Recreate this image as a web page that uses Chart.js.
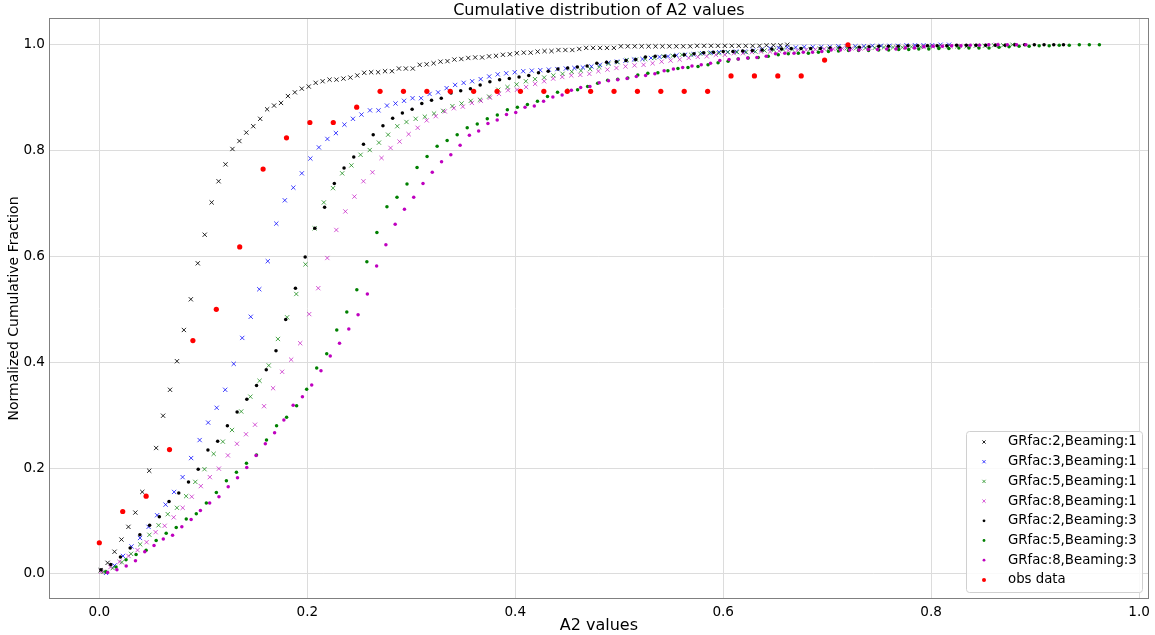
<!DOCTYPE html>
<html><head><meta charset="utf-8">
<script src="https://cdn.jsdelivr.net/npm/chart.js@4.4.0/dist/chart.umd.min.js"></script>
<style>html,body{margin:0;padding:0;background:#fff;}canvas{display:block;}</style>
</head><body>
<canvas id="c" width="1155" height="635"></canvas>
<script>
// ---- Data ----
const chartTitle = 'Cumulative distribution of A2 values';
const seriesNames = ['GRfac:2,Beaming:1','GRfac:3,Beaming:1','GRfac:5,Beaming:1','GRfac:8,Beaming:1',
                     'GRfac:2,Beaming:3','GRfac:5,Beaming:3','GRfac:8,Beaming:3'];
// histogram bin grid of each simulated series (first bin position, bin width)
const binStart = [0.0013, 0.0064, 0.0040, 0.0020, 0.0016, 0.0064, 0.0080];
const binStep  = [0.00667, 0.00819, 0.00883, 0.00869, 0.00935, 0.00965, 0.00892];

const cumGR2B1 = [0.007,0.021,0.042,0.065,0.089,0.116,0.155,0.195,0.238,0.299,
 0.348,0.402,0.461,0.519,0.587,0.641,0.702,0.742,0.774,0.803,
 0.818,0.834,0.846,0.860,0.878,0.885,0.890,0.903,0.910,0.917,
 0.921,0.928,0.931,0.934,0.934,0.936,0.938,0.942,0.947,0.948,
 0.948,0.950,0.950,0.955,0.955,0.955,0.962,0.963,0.965,0.968,
 0.969,0.972,0.973,0.975,0.976,0.976,0.978,0.979,0.981,0.982,
 0.984,0.985,0.985,0.987,0.988,0.988,0.990,0.990,0.990,0.992,
 0.994,0.994,0.994,0.994,0.994,0.997,0.997,0.997,0.997,0.997,
 0.997,0.997,0.997,0.997,0.997,0.997,0.998,0.998,0.998,0.998,
 0.998,0.998,0.998,0.998,0.998,0.998,0.999,0.999,0.999,1.000];
const cumGR3B1 = [0.002,0.016,0.034,0.052,0.068,0.089,0.111,0.131,0.155,0.183,
 0.219,0.253,0.286,0.314,0.348,0.397,0.446,0.486,0.538,0.591,
 0.662,0.706,0.730,0.757,0.785,0.806,0.822,0.833,0.849,0.860,
 0.868,0.876,0.876,0.885,0.889,0.894,0.899,0.899,0.907,0.910,
 0.918,0.924,0.928,0.931,0.935,0.940,0.944,0.946,0.948,0.950,
 0.951,0.952,0.953,0.954,0.955,0.956,0.957,0.959,0.962,0.966,
 0.968,0.970,0.972,0.973,0.975,0.977,0.978,0.980,0.981,0.982,
 0.984,0.985,0.986,0.986,0.987,0.987,0.989,0.991,0.993,0.994,
 0.995,0.995,0.996,0.996,0.996,0.996,0.997,0.997,0.997,0.997,
 0.998,0.998,0.998,0.998,0.999,0.999,0.999,0.999,1.000,1.000];
const cumGR5B1 = [0.004,0.011,0.022,0.038,0.056,0.074,0.092,0.113,0.125,0.147,
 0.174,0.198,0.227,0.250,0.272,0.307,0.335,0.365,0.394,0.444,
 0.485,0.529,0.585,0.653,0.702,0.729,0.757,0.772,0.792,0.801,
 0.815,0.830,0.846,0.854,0.860,0.864,0.870,0.875,0.884,0.889,
 0.894,0.896,0.902,0.915,0.920,0.925,0.931,0.935,0.938,0.942,
 0.945,0.949,0.951,0.954,0.958,0.964,0.967,0.971,0.972,0.973,
 0.975,0.978,0.979,0.981,0.981,0.983,0.984,0.984,0.986,0.986,
 0.986,0.987,0.989,0.990,0.991,0.991,0.992,0.992,0.993,0.993,
 0.994,0.994,0.994,0.994,0.994,0.995,0.995,0.995,0.996,0.996,
 0.997,0.997,0.997,0.997,0.997,0.998,0.998,0.999,0.999,1.000];
const cumGR8B1 = [0.004,0.013,0.023,0.034,0.045,0.060,0.079,0.091,0.107,0.125,
 0.146,0.166,0.183,0.199,0.224,0.246,0.264,0.282,0.317,0.351,
 0.382,0.405,0.436,0.491,0.540,0.597,0.650,0.685,0.713,0.742,
 0.759,0.786,0.805,0.817,0.831,0.843,0.857,0.865,0.874,0.880,
 0.883,0.890,0.894,0.900,0.907,0.914,0.915,0.920,0.926,0.931,
 0.936,0.939,0.942,0.943,0.945,0.950,0.953,0.956,0.959,0.961,
 0.962,0.965,0.968,0.970,0.972,0.975,0.977,0.978,0.981,0.981,
 0.984,0.984,0.986,0.987,0.987,0.988,0.989,0.989,0.990,0.991,
 0.992,0.992,0.993,0.993,0.993,0.994,0.994,0.995,0.995,0.995,
 0.996,0.996,0.997,0.997,0.997,0.998,0.998,0.999,0.999,1.000];
const cumGR2B3 = [0.008,0.018,0.032,0.049,0.074,0.092,0.108,0.137,0.153,0.174,
 0.198,0.234,0.251,0.280,0.306,0.330,0.356,0.386,0.422,0.481,
 0.540,0.599,0.653,0.693,0.738,0.767,0.788,0.812,0.830,0.847,
 0.861,0.871,0.878,0.889,0.895,0.899,0.909,0.913,0.917,0.924,
 0.930,0.934,0.936,0.939,0.942,0.947,0.950,0.954,0.956,0.958,
 0.960,0.965,0.967,0.968,0.970,0.972,0.977,0.978,0.978,0.979,
 0.981,0.983,0.985,0.986,0.987,0.987,0.988,0.989,0.990,0.992,
 0.992,0.993,0.993,0.993,0.993,0.994,0.994,0.994,0.995,0.996,
 0.997,0.997,0.997,0.998,0.998,0.998,0.998,0.998,0.999,0.999,
 0.999,0.999,0.999,0.999,1.000,1.000,1.000,1.000,1.000,1.000];
const cumGR5B3 = [0.004,0.013,0.027,0.037,0.045,0.063,0.077,0.088,0.104,0.114,
 0.134,0.154,0.176,0.192,0.209,0.225,0.253,0.280,0.296,0.318,
 0.349,0.389,0.416,0.461,0.495,0.537,0.590,0.645,0.694,0.712,
 0.737,0.768,0.789,0.808,0.819,0.830,0.843,0.850,0.860,0.867,
 0.877,0.882,0.887,0.893,0.902,0.910,0.914,0.915,0.921,0.927,
 0.933,0.935,0.937,0.943,0.946,0.947,0.951,0.955,0.957,0.959,
 0.962,0.966,0.969,0.973,0.975,0.976,0.978,0.981,0.983,0.984,
 0.984,0.986,0.987,0.988,0.989,0.989,0.989,0.990,0.990,0.991,
 0.991,0.992,0.992,0.993,0.993,0.994,0.994,0.994,0.994,0.995,
 0.996,0.997,0.997,0.998,0.998,0.999,0.999,1.000,1.000,1.000];
const cumGR8B3 = [0.003,0.008,0.015,0.025,0.042,0.054,0.066,0.073,0.089,0.103,
 0.120,0.134,0.146,0.165,0.182,0.201,0.224,0.246,0.267,0.291,
 0.319,0.335,0.357,0.384,0.412,0.436,0.463,0.490,0.529,0.582,
 0.622,0.661,0.689,0.712,0.738,0.759,0.779,0.792,0.810,0.829,
 0.837,0.851,0.858,0.868,0.872,0.882,0.884,0.893,0.901,0.905,
 0.914,0.919,0.921,0.928,0.932,0.934,0.936,0.940,0.942,0.945,
 0.951,0.954,0.957,0.960,0.962,0.965,0.970,0.972,0.973,0.975,
 0.976,0.978,0.983,0.984,0.984,0.986,0.986,0.987,0.990,0.990,
 0.990,0.990,0.991,0.991,0.992,0.992,0.994,0.994,0.996,0.997,
 0.997,0.998,0.998,0.999,0.999,1.000,1.000,1.000,1.000,1.000];

const obsX = [0.000,0.0225,0.045,0.0675,0.090,0.1125,0.135,0.1575,0.180,0.2025,0.225,0.2475,
 0.270,0.2925,0.315,0.3375,0.360,0.3825,0.405,0.4275,0.450,0.4725,0.495,0.5175,0.540,0.5625,0.585,
 0.6075,0.630,0.6525,0.675,0.6975,0.720];
const obsY = [0.059,0.118,0.147,0.235,0.441,0.500,0.618,0.765,0.824,0.853,0.853,0.882,
 0.912,0.912,0.912,0.912,0.912,0.912,0.912,0.912,0.912,0.912,0.912,0.912,0.912,0.912,0.912,
 0.941,0.941,0.941,0.941,0.971,1.000];

const xTicks = [0.0, 0.2, 0.4, 0.6, 0.8, 1.0];
const yTicks = [0.0, 0.2, 0.4, 0.6, 0.8, 1.0];

// ---- styles ----
const simValues = [cumGR2B1, cumGR3B1, cumGR5B1, cumGR8B1, cumGR2B3, cumGR5B3, cumGR8B3];
const simColors = ['rgba(0,0,0,0.85)','rgba(0,0,255,0.75)','rgba(0,128,0,0.7)','rgba(191,0,191,0.65)',
                   '#000000','#008000','#bf00bf'];
const simStyles = ['crossRot','crossRot','crossRot','crossRot','circle','circle','circle'];

const datasets = simValues.map((vals, k) => ({
  label: seriesNames[k],
  data: vals.map((y, i) => ({x: binStart[k] + i * binStep[k], y: y})),
  pointStyle: simStyles[k],
  pointRadius: simStyles[k] === 'circle' ? 1.75 : 3,
  borderWidth: simStyles[k] === 'circle' ? 0 : 1,
  borderColor: simColors[k],
  backgroundColor: simColors[k],
  showLine: false,
  order: 8 - k
}));
datasets.push({
  label: 'obs data',
  data: obsX.map((x, i) => ({x: x, y: obsY[i]})),
  pointStyle: 'circle', pointRadius: 2.6, borderWidth: 0,
  borderColor: '#ff0000', backgroundColor: '#ff0000', showLine: false, order: 0
});

Chart.defaults.font.family = 'DejaVu Sans';
Chart.defaults.color = '#000';

const framePlugin = {
  id: 'frame',
  afterDraw(chart) {
    const {ctx, chartArea: a} = chart;
    ctx.save();
    ctx.strokeStyle = '#808080';
    ctx.lineWidth = 1;
    ctx.strokeRect(Math.round(a.left) + 0.5, Math.round(a.top) + 0.5,
                   Math.round(a.right - a.left) - 1, Math.round(a.bottom - a.top) - 1);
    // title centred over the plot area
    ctx.fillStyle = '#000';
    ctx.font = '16px "DejaVu Sans"';
    ctx.textAlign = 'center';
    ctx.textBaseline = 'alphabetic';
    ctx.fillText(chartTitle, (a.left + a.right) / 2, 15);
    ctx.restore();
  }
};

const legendPlugin = {
  id: 'mplLegend',
  afterDraw(chart) {
    const ctx = chart.ctx;
    const x0 = 966, y0 = 431, w = 176, h = 161;
    ctx.save();
    ctx.fillStyle = 'rgba(255,255,255,0.85)';
    ctx.strokeStyle = '#d0d0d0';
    ctx.lineWidth = 1;
    ctx.beginPath();
    ctx.roundRect(x0 + 0.5, y0 + 0.5, w, h, 3);
    ctx.fill(); ctx.stroke();
    ctx.font = '13.3px "DejaVu Sans"';
    ctx.textBaseline = 'middle';
    ctx.textAlign = 'left';
    chart.data.datasets.forEach((ds, i) => {
      const cy = 442 + i * 19.7;
      const mx = 984;
      ctx.strokeStyle = ds.borderColor; ctx.fillStyle = ds.backgroundColor;
      if (ds.pointStyle === 'crossRot') {
        ctx.lineWidth = 1;
        ctx.beginPath();
        ctx.moveTo(mx - 1.6, cy - 1.6); ctx.lineTo(mx + 1.6, cy + 1.6);
        ctx.moveTo(mx - 1.6, cy + 1.6); ctx.lineTo(mx + 1.6, cy - 1.6);
        ctx.stroke();
      } else {
        ctx.beginPath();
        ctx.arc(mx, cy, i === 7 ? 2 : 1.4, 0, Math.PI * 2);
        ctx.fill();
      }
      ctx.fillStyle = '#000';
      ctx.fillText(ds.label, 1008, cy);
    });
    ctx.restore();
  }
};

new Chart(document.getElementById('c'), {
  type: 'scatter',
  data: {datasets},
  options: {
    responsive: false,
    animation: false,
    devicePixelRatio: 1,
    layout: {padding: {left: 0, right: 6, top: 18, bottom: 0}},
    plugins: {
      legend: {display: false},
      tooltip: {enabled: false},
      title: {display: false}
    },
    scales: {
      x: {
        type: 'linear', min: -0.0484, max: 1.0093,
        afterBuildTicks: s => { s.ticks = xTicks.map(v => ({value: v})); },
        afterFit: s => { s.height = 36; },
        grid: {color: '#dcdcdc', lineWidth: 1, drawTicks: false},
        border: {display: false},
        ticks: {padding: 5, font: {size: 13.6}, callback: v => Number(v).toFixed(1), maxRotation: 0},
        title: {display: true, text: 'A2 values', font: {size: 16}, padding: {top: 4, bottom: 0}}
      },
      y: {
        type: 'linear', min: -0.0473, max: 1.0505,
        afterBuildTicks: s => { s.ticks = yTicks.map(v => ({value: v})); },
        afterFit: s => { s.width = 49; },
        grid: {color: '#dcdcdc', lineWidth: 1, drawTicks: false},
        border: {display: false},
        ticks: {padding: 4, font: {size: 13.6}, callback: v => Number(v).toFixed(1)},
        title: {display: true, text: 'Normalized Cumulative Fraction', font: {size: 14}, padding: {top: 6, bottom: 0}}
      }
    }
  },
  plugins: [framePlugin, legendPlugin]
});
</script>
</body></html>
